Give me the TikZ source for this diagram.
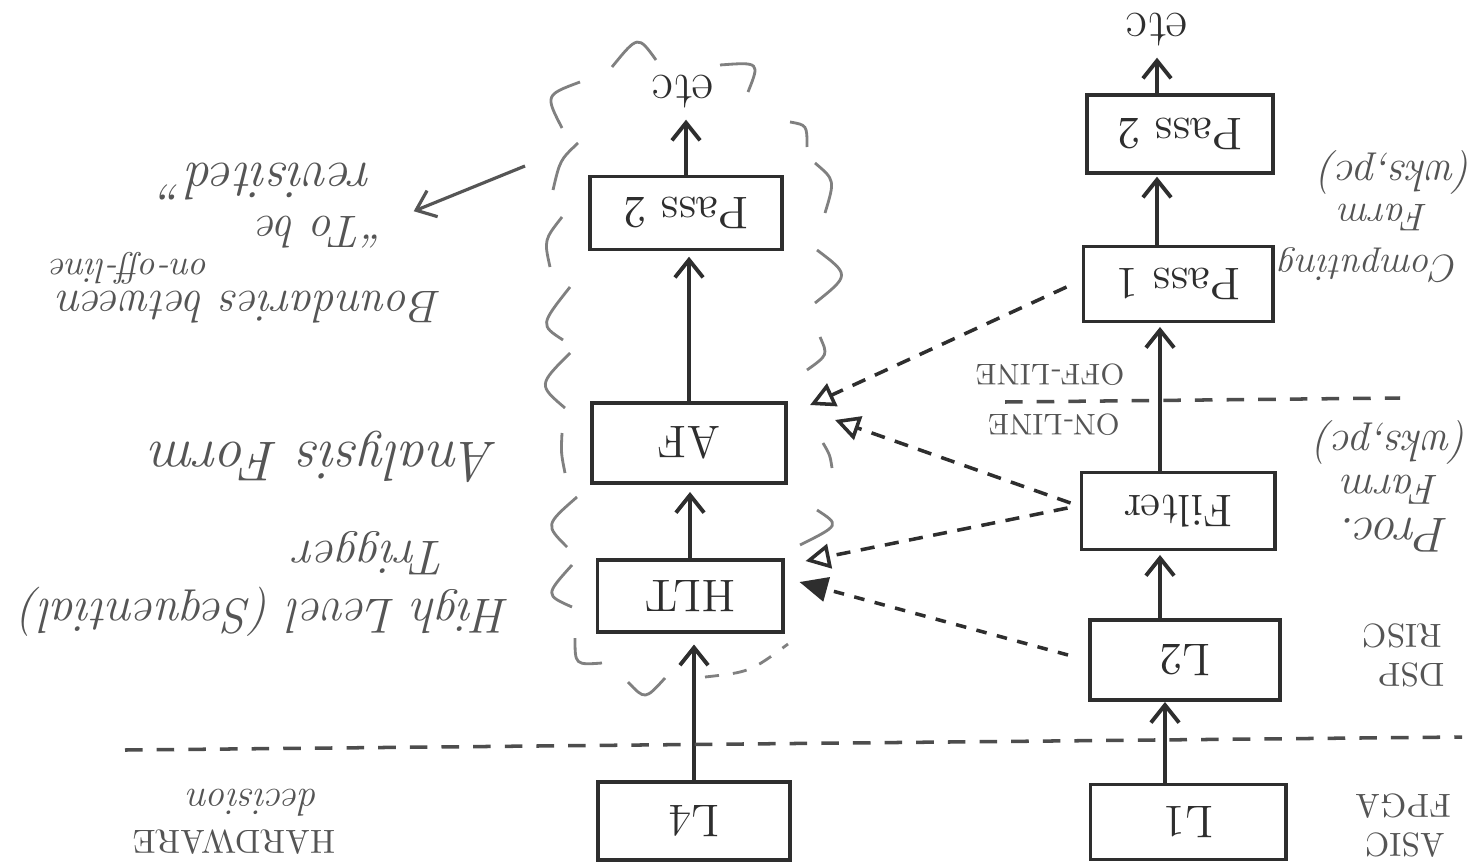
\documentclass[tikz,border=0pt]{standalone}
\usetikzlibrary{arrows.meta,calc}
\definecolor{ink}{HTML}{2E2E2E}
\definecolor{pencil}{HTML}{555555}
\definecolor{cloudgray}{HTML}{808080}

\begin{document}
\begin{tikzpicture}[x=0.01cm,y=-0.01cm,
  stage/.style={draw=ink, line width=1.1pt, inner sep=0pt, text=ink,
    font=\fontsize{13}{15}\selectfont},
  etcnode/.style={inner sep=1pt, text=ink, font=\fontsize{15}{17}\selectfont},
  note/.style={rotate=180, inner sep=0pt, text=pencil},
  flow/.style={draw=ink, line width=1.1pt, -{Straight Barb[length=5pt,width=8pt]}},
  feed/.style={draw=ink, line width=1pt, dash pattern=on 4pt off 3pt,
    -{Triangle[open,length=7pt,width=7pt]}},
  feedfill/.style={feed, -{Triangle[length=8pt,width=7pt]}},
  divider/.style={draw=ink!85, line width=1pt, dash pattern=on 5pt off 4pt},
  cloudline/.style={draw=cloudgray, line width=0.8pt},
  pointer/.style={draw=pencil, line width=0.9pt, -{Straight Barb[length=5pt,width=8pt]}}]

\useasboundingbox[fill=white] (0,0) rectangle (1474,867);

% ---------------- left chain ----------------
\node[stage, minimum width=1.92cm, minimum height=0.78cm] (L4) at (694,821) {\rotatebox[origin=c]{180}{L4}};
\node[stage, minimum width=1.85cm, minimum height=0.72cm] (HLT) at (690,596) {\rotatebox[origin=c]{180}{HLT}};
\node[stage, minimum width=1.94cm, minimum height=0.80cm] (AF) at (689,443) {\rotatebox[origin=c]{180}{AF}};
\node[stage, minimum width=1.92cm, minimum height=0.73cm] (PassL) at (686,213) {\rotatebox[origin=c]{180}{Pass 2}};
\node[etcnode] (etcL) at (683,92) {\rotatebox[origin=c]{180}{etc}};

\draw[flow, shorten >=3pt] (L4.north) -- (L4.north |- HLT.south);
\draw[flow, shorten >=2pt] (HLT.north) -- (HLT.north |- AF.south);
\draw[flow, shorten >=1.5pt] (AF.north) -- (AF.north |- PassL.south);
\draw[flow, shorten >=2pt] (PassL.north) -- (PassL.north |- etcL.south);

% ---------------- right chain ----------------
\node[stage, minimum width=1.95cm, minimum height=0.75cm] (L1) at (1188,822) {\rotatebox[origin=c]{180}{L1}};
\node[stage, minimum width=1.90cm, minimum height=0.80cm] (L2) at (1185,660) {\rotatebox[origin=c]{180}{L2}};
\node[stage, minimum width=1.93cm, minimum height=0.77cm] (Filter) at (1178,511) {\rotatebox[origin=c]{180}{Filter}};
\node[stage, minimum width=1.89cm, minimum height=0.75cm] (PassA) at (1178,284) {\rotatebox[origin=c]{180}{Pass 1}};
\node[stage, minimum width=1.86cm, minimum height=0.78cm] (PassB) at (1180,134) {\rotatebox[origin=c]{180}{Pass 2}};
\node[etcnode] (etcR) at (1157,30) {\rotatebox[origin=c]{180}{etc}};

\draw[flow] ([xshift=-0.23cm]L1.north) -- ([xshift=-0.23cm]L1.north |- L2.south);
\draw[flow, shorten >=1pt] ([xshift=-0.25cm]L2.north) -- ([xshift=-0.25cm]L2.north |- Filter.south);
\draw[flow, shorten >=1pt] ([xshift=-0.18cm]Filter.north) -- ([xshift=-0.18cm]Filter.north |- PassA.south);
\draw[flow, shorten >=0.5pt] ([xshift=-0.21cm]PassA.north) -- ([xshift=-0.21cm]PassA.north |- PassB.south);
\draw[flow, shorten >=2pt] ([xshift=-0.23cm]PassB.north) -- ([xshift=-0.23cm]PassB.north |- etcR.south);

% ---------------- feeds from the right chain ----------------
\draw[feed] ($(PassA.west)+(-15,3)$) -- ($(AF.north east)+(22,4)$);
\draw[feed] ($(Filter.west)+(-9,-8)$) -- ($(AF.east)+(47,-23)$);
\draw[feed] ($(Filter.west)+(-12,-3)$) -- ($(HLT.north east)+(21,3)$);
\draw[feedfill, dash pattern=on 3pt off 3pt] ($(L2.west)+(-20,-5)$) -- ($(HLT.east)+(15,-14)$);

% ---------------- dividers ----------------
\draw[divider] (125,750) -- (1462,737);
\draw[divider] (1005,402) -- (1400,398);

% ---------------- cloud round the left chain ----------------
\draw[cloudline]
 (580,82) .. controls (545,95) .. (562,128)
 (612,67) .. controls (638,35) .. (656,60)
 (720,65) .. controls (760,62) .. (748,92)
 (790,122) .. controls (807,125) .. (807,147)
 (815,163) .. controls (835,180) .. (825,213)
 (817,250) .. controls (850,275) .. (815,303)
 (820,337) .. controls (828,355) .. (807,370)
 (578,143) .. controls (560,160) .. (553,190)
 (562,217) .. controls (544,240) .. (550,267)
 (570,287) .. controls (540,325) .. (563,340)
 (570,353) .. controls (538,385) .. (565,408)
 (562,433) .. controls (561,453) .. (565,473)
 (577,497) .. controls (545,525) .. (567,547)
 (572,565) .. controls (545,595) .. (572,607)
 (575,638) .. controls (575,665) .. (602,663)
 (628,682) .. controls (645,700) .. (665,678)
 (823,443) .. controls (830,455) .. (832,468)
 (817,510) .. controls (840,525) .. (800,545);
\draw[cloudline, dash pattern=on 4pt off 4pt] (705,677) .. controls (750,672) .. (788,644);

% ---------------- notes on the left ----------------
\node[note, font=\fontsize{9.5}{11}\selectfont] (hw) at (234,842) {HARDWARE};
\node[note, font=\fontsize{11}{13}\selectfont\itshape] (dec) at (254,803) {decision};
\node[note, font=\fontsize{14}{16}\selectfont\itshape] (hlt) at (266,612) {High Level (Sequential)};
\node[note, font=\fontsize{14}{16}\selectfont\itshape] (trig) at (372,553) {Trigger};
\node[note, font=\fontsize{16}{18}\selectfont\itshape] (ana) at (325,457) {Analysis Form};
\node[note, font=\fontsize{13}{15}\selectfont\itshape] (bnd) at (250,307) {Boundaries between};
\node[note, font=\fontsize{10}{12}\selectfont\itshape] (onoff) at (130,268) {on-off-line};
\node[note, font=\fontsize{13}{15}\selectfont\itshape] (tobe) at (322,232) {``To be};
\node[note, font=\fontsize{15}{17}\selectfont\itshape] (rev) at (268,182) {revisited''};
\coordinate (revtail) at (525,166);
\draw[pointer] (revtail) -- ($(tobe.south west)+(27,-4)$);

% ---------------- notes on the right ----------------
\node[note, font=\fontsize{9.5}{11}\selectfont] (asic) at (1405,845) {ASIC};
\node[note, font=\fontsize{9.5}{11}\selectfont] (fpga) at (1403,806) {FPGA};
\node[note, font=\fontsize{9.5}{11}\selectfont] (dsp) at (1411,675) {DSP};
\node[note, font=\fontsize{9.5}{11}\selectfont] (risc) at (1402,636) {RISC};
\node[note, font=\fontsize{14}{16}\selectfont\itshape] (proc) at (1395,535) {Proc.};
\node[note, font=\fontsize{12}{14}\selectfont\itshape] (farmA) at (1391,490) {Farm};
\node[note, font=\fontsize{12.5}{14}\selectfont\itshape] (wksA) at (1393,442) {(wks,pc)};
\node[note, font=\fontsize{11}{13}\selectfont\itshape] (comp) at (1370,265) {Computing};
\node[note, font=\fontsize{11}{13}\selectfont\itshape] (farmB) at (1384,217) {Farm};
\node[note, font=\fontsize{12.5}{14}\selectfont\itshape] (wksB) at (1397,172) {(wks,pc)};
\node[note, font=\fontsize{8.5}{10}\selectfont] (offl) at (1050,375) {OFF-LINE};
\node[note, font=\fontsize{8.5}{10}\selectfont] (onl) at (1054,425) {ON-LINE};

\end{tikzpicture}
\end{document}
